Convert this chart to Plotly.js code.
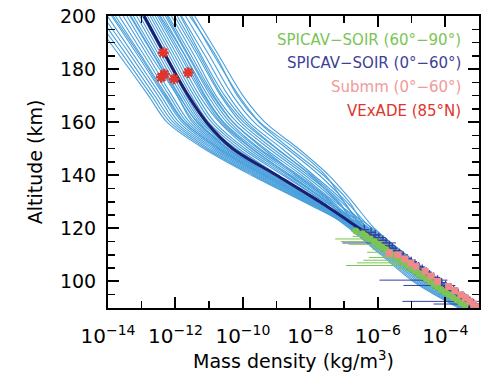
<!DOCTYPE html>
<html>
<head>
<meta charset="utf-8">
<script src="https://cdn.plot.ly/plotly-3.0.1.min.js"></script>
<style>html,body{margin:0;padding:0;background:#fff;}#chart{width:500px;height:384px;}</style>
</head>
<body>
<div id="chart"></div>
<script>
// Altitude grid (km) for the model profiles
const altGrid = [90, 100, 110, 120, 130, 140, 150, 160, 170, 185, 200];
// log10 of mass density (kg/m3) for each individual model profile
const logRhoProfiles = [
  [-3.10,-4.10,-5.15,-6.10,-6.75,-7.45,-8.35,-9.35,-10.00,-10.71,-11.43],
  [-3.18,-4.20,-5.28,-6.33,-6.85,-7.61,-8.60,-9.53,-10.17,-10.80,-11.58],
  [-3.13,-4.14,-5.20,-6.19,-6.93,-7.73,-8.69,-9.67,-10.30,-10.99,-11.70],
  [-3.22,-4.26,-5.35,-6.46,-7.01,-7.90,-8.84,-9.82,-10.43,-11.12,-11.82],
  [-3.16,-4.18,-5.25,-6.28,-7.08,-7.96,-8.98,-9.90,-10.54,-11.23,-11.85],
  [-3.32,-4.43,-5.50,-6.61,-7.15,-8.07,-9.11,-10.07,-10.66,-11.34,-12.03],
  [-3.19,-4.22,-5.30,-6.37,-7.21,-8.16,-9.22,-10.18,-10.80,-11.44,-12.12],
  [-3.12,-4.12,-5.18,-6.15,-7.27,-8.26,-9.34,-10.29,-10.86,-11.53,-12.21],
  [-3.24,-4.28,-5.38,-6.51,-7.33,-8.35,-9.50,-10.39,-10.96,-11.63,-12.30],
  [-3.43,-4.63,-5.65,-6.70,-7.38,-8.43,-9.55,-10.48,-11.04,-11.71,-12.38],
  [-3.21,-4.24,-5.33,-6.42,-7.43,-8.50,-9.64,-10.57,-11.12,-11.72,-12.45],
  [-3.15,-4.16,-5.23,-6.24,-7.48,-8.58,-9.74,-10.66,-11.20,-11.86,-12.53],
  [-3.29,-4.37,-5.45,-6.58,-7.53,-8.66,-9.83,-10.70,-11.29,-11.94,-12.60],
  [-3.18,-4.20,-5.28,-6.33,-7.58,-8.74,-9.93,-10.84,-11.37,-12.02,-12.68],
  [-3.50,-4.76,-5.75,-6.76,-7.63,-8.81,-10.02,-10.93,-11.45,-12.10,-12.75],
  [-3.22,-4.26,-5.35,-6.46,-7.68,-8.95,-10.12,-11.02,-11.53,-12.18,-12.83],
  [-3.36,-4.50,-5.55,-6.64,-7.73,-8.97,-10.21,-11.11,-11.62,-12.26,-12.90],
  [-3.16,-4.18,-5.25,-6.28,-7.76,-9.02,-10.28,-11.18,-11.68,-12.33,-12.98],
  [-3.57,-4.89,-5.85,-6.82,-7.79,-9.06,-10.32,-11.24,-11.74,-12.40,-13.06],
  [-3.25,-4.30,-5.40,-6.55,-7.81,-9.11,-10.45,-11.30,-11.81,-12.48,-13.15],
  [-3.21,-4.24,-5.33,-6.42,-7.84,-9.15,-10.43,-11.37,-11.88,-12.56,-13.25],
  [-3.39,-4.56,-5.60,-6.67,-7.87,-9.20,-10.48,-11.44,-11.95,-12.64,-13.35],
  [-3.24,-4.28,-5.38,-6.51,-7.89,-9.24,-10.54,-11.50,-11.95,-12.73,-13.44],
  [-3.60,-4.95,-5.90,-6.85,-7.93,-9.29,-10.60,-11.58,-12.10,-12.82,-13.55],
  [-3.19,-4.22,-5.30,-6.37,-7.96,-9.35,-10.66,-11.66,-12.18,-12.92,-13.67],
  [-3.46,-4.69,-5.70,-6.73,-7.99,-9.40,-10.73,-11.73,-12.26,-13.01,-13.78],
  [-3.32,-4.43,-5.50,-6.61,-8.02,-9.45,-10.79,-11.81,-12.34,-13.11,-13.89],
  [-3.22,-4.26,-5.35,-6.46,-8.06,-9.51,-10.86,-11.90,-12.43,-13.22,-14.02],
  [-3.53,-4.82,-5.80,-6.79,-8.09,-9.57,-10.93,-11.99,-12.52,-13.32,-14.15],
  [-3.36,-4.50,-5.55,-6.64,-8.13,-9.63,-11.01,-12.07,-12.62,-13.43,-14.27],
  [-3.24,-4.28,-5.38,-6.51,-8.16,-9.69,-11.08,-12.16,-12.71,-13.54,-14.40],
  [-3.43,-4.63,-5.65,-6.70,-8.20,-9.75,-11.15,-12.25,-12.80,-13.65,-14.53],
  [-3.20,-4.22,-5.32,-6.40,-7.00,-7.55,-8.45,-9.50,-10.12,-10.85,-11.52],
  [-3.27,-4.35,-5.45,-6.52,-7.20,-8.00,-9.00,-9.98,-10.62,-11.28,-11.95],
  [-3.30,-4.40,-5.48,-6.58,-7.50,-8.62,-9.72,-10.60,-11.15,-11.80,-12.48],
  [-3.18,-4.20,-5.30,-6.45,-7.70,-9.05,-10.35,-11.35,-11.90,-12.62,-13.32],
  [-3.40,-4.60,-5.62,-6.68,-7.95,-9.35,-10.70,-11.75,-12.30,-13.05,-13.85],
  [-3.28,-4.38,-5.47,-6.57,-7.40,-8.40,-9.40,-10.30,-10.90,-11.60,-12.25]
];
// mean profile (log10 kg/m3)
const logRhoMean = [-3.25,-4.30,-5.40,-6.55,-7.72,-9.00,-10.30,-11.08,-11.62,-12.29,-12.93];

// SPICAV-SOIR (60-90 deg)
const soirPolarAlt = [119,118,117,116,115,114,113,112,111,110,109,108,107,106,105,104,103,102,101,100,99,98,97,96,95,94,93,92,91];
const soirPolarLogRho = [-6.65,-6.45,-6.35,-6.22,-6.10,-5.98,-5.88,-5.76,-5.66,-5.55,-5.44,-5.33,-5.22,-5.12,-5.00,-4.90,-4.78,-4.68,-4.56,-4.45,-4.34,-4.23,-4.12,-4.00,-3.89,-3.77,-3.65,-3.53,-3.41];
const soirPolarRelErr = [0.3,0.4,0.6,0.91,0.90,0.87,0.5,0.6,0.78,0.5,0.85,0.92,0.96,0.985,0.6,0.5,0.4,0.5,0.45,0.3,0.4,0.35,0.5,0.45,0.4,0.3,0.3,0.25,0.2];

// SPICAV-SOIR (0-60 deg)
const soirLowAlt = [119.5,118.5,117.5,116.5,115.5,114.5,113.5,112.5,111.5,110.5,109.5,108.5,107.5,106.5,105.5,104.5,103.5,102.5,101.5,100.5,99.5,98.5,97.5,96.5,95.5,94.5,93.5,92.5,91.5];
const soirLowLogRho = [-6.40,-6.20,-6.08,-5.97,-5.85,-5.75,-5.66,-5.57,-5.48,-5.36,-5.25,-5.13,-5.01,-4.90,-4.79,-4.68,-4.57,-4.47,-4.35,-4.23,-4.11,-3.99,-3.87,-3.75,-3.62,-3.50,-3.39,-3.27,-3.16];
const soirLowRelErr = [0.3,0.4,0.5,0.6,0.35,0.95,0.5,0.4,0.6,0.3,0.45,0.35,0.5,0.4,0.55,0.3,0.5,0.4,0.6,0.981,0.4,0.944,0.5,0.45,0.6,0.5,0.4,0.99,0.935];

// Submm (0-60 deg)
const submmAlt = [110.6,110.0,108.5,106.9,105.6,103.8,102.0,100.0,98.1,96.6,95.0,93.8,92.5,91.4,90.4];
const submmLogRho = [-5.66,-5.40,-5.20,-5.02,-4.87,-4.60,-4.42,-4.23,-3.90,-3.72,-3.54,-3.40,-3.27,-3.16,-3.07];

// VExADE (85N)
const vexadeAlt = [186.2,178.1,176.9,176.3,178.7];
const vexadeLogRho = [-12.36,-12.33,-12.42,-12.04,-11.62];

// axis ticks
const xTickExp = [-14,-12,-10,-8,-6,-4];
const xMinorExp = [-13,-11,-9,-7,-5,-3];
const legendLabels = ['SPICAV\u2212SOIR (60\u00b0\u221290\u00b0)','SPICAV\u2212SOIR (0\u00b0\u221260\u00b0)','Submm (0\u00b0\u221260\u00b0)','VExADE (85\u00b0N)'];
const legendColors = ['#7cc454','#3d3f9a','#f09a9a','#e0352b'];

const p10 = v => Math.pow(10, v);
const traces = [];
logRhoProfiles.forEach(row => {
  traces.push({x: row.map(p10), y: altGrid, type: 'scatter', mode: 'lines',
    line: {color: '#4aa0dc', width: 1.1, shape: 'spline', smoothing: 0.9}, hoverinfo: 'skip', showlegend: false});
});
traces.push({x: logRhoMean.map(p10), y: altGrid, type: 'scatter', mode: 'lines',
  line: {color: '#1b2170', width: 3, shape: 'spline', smoothing: 0.9}, showlegend: false});

const lowVals = soirLowLogRho.map(p10);
traces.push({x: lowVals, y: soirLowAlt, type: 'scatter', mode: 'markers',
  marker: {symbol: 'cross-thin-open', size: 7, color: '#3d3f9a', line: {width: 1.3}},
  error_x: {type: 'data', symmetric: true, array: lowVals.map((v, i) => v * soirLowRelErr[i]), color: '#3040a0', thickness: 1, width: 0},
  showlegend: false});

const polVals = soirPolarLogRho.map(p10);
traces.push({x: polVals, y: soirPolarAlt, type: 'scatter', mode: 'markers',
  marker: {symbol: 'circle', size: 7, color: '#7cc454'},
  error_x: {type: 'data', symmetric: true, array: polVals.map((v, i) => v * soirPolarRelErr[i]), color: '#7cc454', thickness: 1, width: 0},
  showlegend: false});

traces.push({x: submmLogRho.map(p10), y: submmAlt, type: 'scatter', mode: 'markers',
  marker: {symbol: 'square', size: 7, color: '#f08a8a'}, showlegend: false});

traces.push({x: vexadeLogRho.map(p10), y: vexadeAlt, type: 'scatter', mode: 'markers',
  marker: {symbol: 'asterisk-open', size: 9, color: '#e0352b', line: {width: 2.5}}, showlegend: false});

const legendY = [0.918, 0.839, 0.757, 0.676];
const annotations = legendLabels.map((t, i) => ({
  text: t, xref: 'paper', yref: 'paper', x: 0.957, y: legendY[i], xanchor: 'right', yanchor: 'middle',
  showarrow: false, font: {family: 'DejaVu Sans', size: 15, color: legendColors[i]}
}));

const layout = {
  width: 500, height: 384,
  margin: {l: 108, r: 21, t: 16, b: 76},
  paper_bgcolor: '#fff', plot_bgcolor: '#fff',
  showlegend: false,
  font: {family: 'DejaVu Sans', color: '#000'},
  xaxis: {
    type: 'log', range: [-14, -3],
    tickmode: 'array', tickvals: xTickExp.map(p10), ticktext: xTickExp.map(e => '10<sup>\u2212' + Math.abs(e) + '</sup>'),
    ticks: 'inside', ticklen: 11, tickwidth: 2, tickcolor: '#000',
    minor: {tickmode: 'array', tickvals: xMinorExp.map(p10), ticks: 'inside', ticklen: 7, tickwidth: 1.5, tickcolor: '#000'},
    showline: true, linewidth: 2, linecolor: '#000', mirror: 'ticks', showgrid: false, zeroline: false,
    tickfont: {size: 20, family: 'DejaVu Sans'}, ticklabelstandoff: 9,
    title: {text: 'Mass density (kg/m<sup>3</sup>)', font: {size: 19, family: 'DejaVu Sans'}, standoff: 7}
  },
  yaxis: {
    range: [90, 200], tick0: 0, dtick: 20,
    ticks: 'inside', ticklen: 11, tickwidth: 2, tickcolor: '#000',
    minor: {dtick: 5, ticks: 'inside', ticklen: 7, tickwidth: 1.5, tickcolor: '#000'},
    showline: true, linewidth: 2, linecolor: '#000', mirror: 'ticks', showgrid: false, zeroline: false,
    tickfont: {size: 19, family: 'DejaVu Sans'}, ticklabelstandoff: 6,
    title: {text: 'Altitude (km)', font: {size: 19, family: 'DejaVu Sans'}, standoff: 12}
  },
  annotations: annotations
};

Plotly.newPlot('chart', traces, layout, {staticPlot: true, displayModeBar: false});
</script>
</body>
</html>
